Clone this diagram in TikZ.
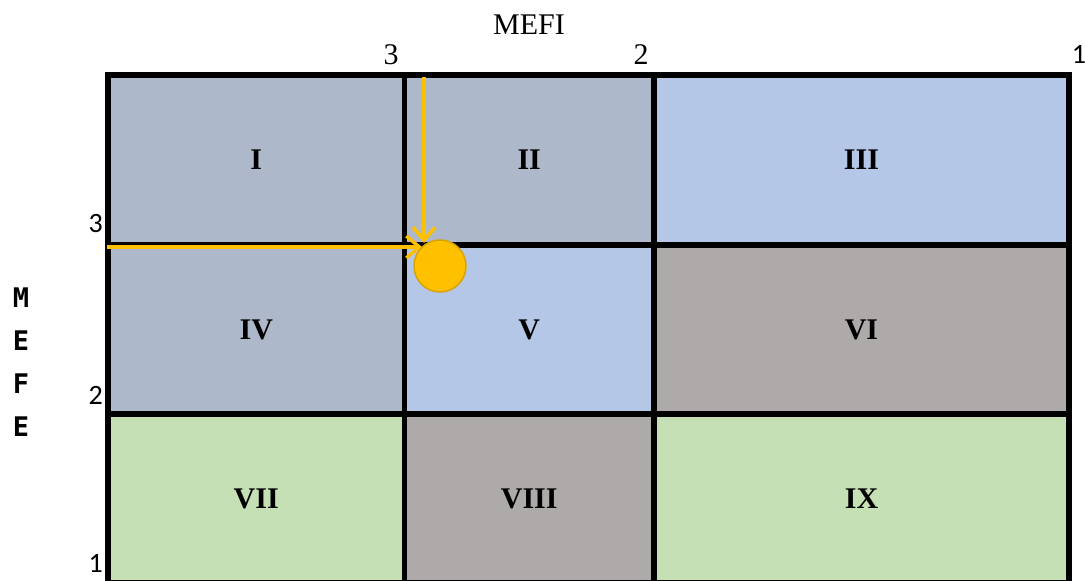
\documentclass[tikz,border=0pt]{standalone}
\usepackage{fontspec}
\setmainfont{Liberation Serif}
\newfontfamily\axisdigits{Carlito}
\newfontfamily\sidefont{DejaVu Sans Mono}
\usetikzlibrary{arrows.meta}

\definecolor{cellslate}{HTML}{ADB9CA}
\definecolor{cellblue}{HTML}{B4C7E7}
\definecolor{cellgray}{HTML}{AEAAAA}
\definecolor{cellgreen}{HTML}{C5E0B4}
\definecolor{marker}{HTML}{FFC000}
\definecolor{markeredge}{HTML}{D9A400}

\tikzset{
  cell/.style={fill=#1, draw=black, line width=5.5pt, inner sep=0pt, outer sep=0pt,
    font=\bfseries\fontsize{30}{30}\selectfont},
  colA/.style={minimum width=296.5pt},
  colB/.style={minimum width=249.5pt},
  colC/.style={minimum width=415pt},
  rowA/.style={minimum height=170pt},
  rowB/.style={minimum height=169pt},
  topnum/.style={font=\fontsize{30}{30}\selectfont, inner sep=0pt},
  sidenum/.style={font=\axisdigits\fontsize{28}{28}\selectfont, inner sep=0pt, anchor=east},
  sideletter/.style={font=\sidefont\bfseries\fontsize{27}{27}\selectfont, inner sep=0pt},
  pointer/.style={draw=marker, line width=3.8pt, -{Straight Barb[length=13pt,width=22pt,line width=3.5pt]}},
  spot/.style={circle, fill=marker, draw=markeredge, line width=1.5pt, minimum size=52pt, inner sep=0pt}
}

\begin{document}
\begin{tikzpicture}[x=1pt, y=-1pt]
  \useasboundingbox (0,0) rectangle (1085,581);
  \clip (0,0) rectangle (1085,581);

  % matrix cells
  \node[cell=cellslate, colA, rowA] (c1) at (256.25,160) {I};
  \node[cell=cellslate, colB, rowA] (c2) at (529.25,160) {II};
  \node[cell=cellblue,  colC, rowA] (c3) at (861.5,160) {III};
  \node[cell=cellslate, colA, rowB] (c4) at (256.25,329.5) {IV};
  \node[cell=cellblue,  colB, rowB] (c5) at (529.25,329.5) {V};
  \node[cell=cellgray,  colC, rowB] (c6) at (861.5,329.5) {VI};
  \node[cell=cellgreen, colA, rowB] (c7) at (256.25,498.5) {VII};
  \node[cell=cellgray,  colB, rowB] (c8) at (529.25,498.5) {VIII};
  \node[cell=cellgreen, colC, rowB] (c9) at (861.5,498.5) {IX};

  % axis titles and scale marks
  \node[topnum] (mefi) at (529,25) {MEFI};
  \node[topnum] (t3) at (391,55) {3};
  \node[topnum] (t2) at (641,55) {2};
  \node[font=\axisdigits\fontsize{28}{28}\selectfont, inner sep=0pt] (t1) at (1079,54) {1};
  \node[sidenum] (s3) at (103,224) {3};
  \node[sidenum] (s2) at (103,395) {2};
  \node[sidenum] (s1) at (103,563) {1};

  \node[sideletter] (m1) at (21,298) {M};
  \node[sideletter] (m2) at (21,341) {E};
  \node[sideletter] (m3) at (21,384) {F};
  \node[sideletter] (m4) at (21,427) {E};

  % position marker
  \coordinate (vstart) at (424,77);
  \coordinate (vend) at (424,243);
  \coordinate (hstart) at (107,247);
  \coordinate (hend) at (422,247);
  \draw[pointer] (vstart) -- (vend);
  \draw[pointer] (hstart) -- (hend);
  \node[spot] (pos) at (440,266) {};
\end{tikzpicture}
\end{document}
